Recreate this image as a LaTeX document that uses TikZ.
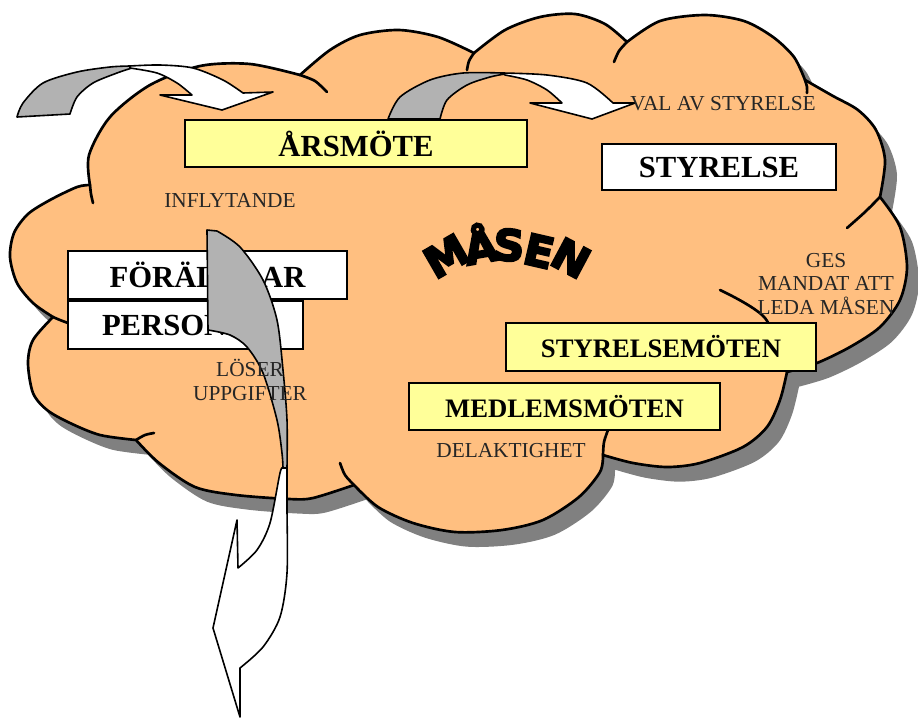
\documentclass[tikz,border=0pt]{standalone}
\usepackage{fontspec}
\setmainfont{Liberation Serif}
\newfontfamily\masenfont{DejaVu Sans}[FakeBold=5]
\usepackage{xcolor}
\usepackage{tikz}
\usetikzlibrary{positioning,shadows}
\definecolor{MPeach}{HTML}{FFBF80}
\definecolor{MYellow}{HTML}{FFFF99}
\definecolor{MRibbon}{HTML}{B2B2B2}
\definecolor{MShadow}{HTML}{808080}
\definecolor{MText}{HTML}{262626}

\begin{document}
\begin{tikzpicture}[
  x=0.75pt,y=-0.75pt,
  every node/.style={inner sep=0pt},
  cloudline/.style={draw=black,line width=2pt,fill=MPeach,line join=round,
    drop shadow={shadow xshift=9pt,shadow yshift=-11pt,fill=MShadow,opacity=1}},
  bump/.style={draw=black,line width=2pt,line cap=round},
  topic/.style={draw=black,line width=1.5pt,fill=white,minimum height=35.25pt,
    font=\fontsize{23}{26}\selectfont\bfseries},
  meeting/.style={draw=black,line width=1.5pt,fill=MYellow,minimum height=35.5pt,
    font=\fontsize{20}{23}\selectfont\bfseries},
  note/.style={text=MText,align=center,font=\fontsize{16}{17.8}\selectfont},
  back/.style={draw=black,line width=1.2pt,fill=MRibbon,line join=round},
  front/.style={draw=black,line width=1.2pt,fill=white,line join=round},
  masen/.style={font=\masenfont\bfseries\fontsize{32}{32}\selectfont}
]
  \useasboundingbox (0,0) rectangle (918,719);
  % the cloud
  \draw[cloudline]
    plot[smooth] coordinates {(90,185) (89,155) (110,117) (150,85) (200,66) (250,64) (300,75)}
    -- plot[smooth] coordinates {(300,75) (330,50) (360,35) (399,30) (438,37) (474,53)}
    -- plot[smooth] coordinates {(474,53) (505,30) (540,17) (575,14) (605,24) (627,42)}
    -- plot[smooth] coordinates {(627,42) (660,21) (705,15) (744,21) (773,37) (794,57) (805,80)}
    -- plot[smooth] coordinates {(805,80) (833,96) (858,110) (876,130) (885,160) (880,197)}
    -- plot[smooth] coordinates {(880,197) (900,227) (907,267) (900,300) (880,327) (850,347) (817,363) (787,372)}
    -- plot[smooth] coordinates {(787,372) (780,400) (767,427) (743,447) (700,463) (667,467) (633,463) (603,455)}
    -- plot[smooth] coordinates {(603,455) (600,472) (579,497) (543,520) (502,530) (455,532) (413,523) (378,507) (354,485)}
    -- plot[smooth] coordinates {(354,485) (313,498) (289,499) (236,495) (195,487) (159,463) (136,440)}
    -- plot[smooth] coordinates {(136,440) (100,435) (70,423) (47,410) (33,393) (28,363) (33,340) (53,317)}
    -- plot[smooth] coordinates {(53,317) (33,303) (17,283) (10,257) (14,233) (28,214) (50,200) (77,187) (90,185)}
    -- cycle;
  \foreach \xa/\ya/\xb/\yb/\xc/\yc in {300/75/315/81/327/92, 474/53/469/61/467/70,
      627/42/619/51/614/62, 805/80/807/87/807/93, 880/197/865/212/847/228,
      787/372/765/318/720/290, 603/455/604/442/608/430, 354/485/345/475/340/463,
      136/440/145/435/154/433, 53/317/60/320/68/323, 90/185/91/194/93/203}
    {\draw[bump] plot[smooth] coordinates {(\xa,\ya) (\xb,\yb) (\xc,\yc)};}

  % boxes
  \node[topic,fill=MYellow,minimum width=256.5pt] (arsmote) at (356,143.5) {ÅRSMÖTE};
  \node[topic,minimum width=175.5pt,minimum height=34.5pt] (styrelse) at (719,167) {STYRELSE};
  \node[topic,minimum width=209.25pt,minimum height=36pt] (foraldrar) at (207.5,275) {FÖRÄLDRAR};
  \node[topic,minimum width=176.25pt,minimum height=36pt,
    below=0pt of foraldrar.south west,anchor=north west] (personal) {PERSONAL};
  \node[meeting,minimum width=232.5pt,minimum height=36pt] (stmote) at (661,347) {STYRELSEMÖTEN};
  \node[meeting,minimum width=233.25pt] (medmote) at (564.5,406.5) {MEDLEMSMÖTEN};

  % curved ribbons
  \draw[back] plot[smooth] coordinates {(17,117) (23,103) (43,83) (77,72) (110,67) (130,66)}
    -- plot[smooth] coordinates {(132,68) (117,73) (93,83) (77,97) (70,114)} -- cycle;
  \draw[front] plot[smooth] coordinates {(130,66) (160,65) (193,68) (223,80) (243,93)}
    -- (273,92) -- (222,110) -- (160,95) -- (192,95)
    -- plot[smooth] coordinates {(192,95) (177,83) (157,73) (130,68)} -- cycle;
  \draw[back] plot[smooth] coordinates {(388,119) (400,97) (430,80) (463,73) (503,73)}
    -- plot[smooth] coordinates {(505,74) (490,77) (467,85) (447,100) (440,119)} -- cycle;
  \draw[front] plot[smooth] coordinates {(503,73) (547,75) (587,83) (613,103)}
    -- (635,103) -- (592,119) -- (530,103) -- (562,103)
    -- plot[smooth] coordinates {(562,103) (547,90) (527,80) (505,75)} -- cycle;
  \draw[back] (207,230) -- plot[smooth] coordinates {(217,231) (240,247) (263,280) (277,320) (283,370) (287,420) (287,468)}
    -- plot[smooth] coordinates {(283,468) (282,453) (277,420) (263,373) (247,347) (230,335) (208,330)} -- cycle;
  \draw[front] plot[smooth] coordinates {(287,468) (287,507) (287,573) (280,617) (263,647) (240,668)}
    -- (240,717) -- (213,628) -- (237,520) -- (238,568)
    -- plot[smooth] coordinates {(238,568) (257,550) (270,523) (280,473) (283,468)} -- cycle;

  % labels
  \node[note] (inflytande) at (230,200) {INFLYTANDE};
  \node[note] (val) at (723,104) {VAL AV STYRELSE};
  \node[note] (mandat) at (826,284) {GES\\MANDAT ATT\\LEDA MÅSEN};
  \node[note] (loser) at (250,380) {LÖSER\\UPPGIFTER};
  \node[note] (delakt) at (511,451) {DELAKTIGHET};
  \foreach \ch/\px/\py/\rot [count=\i] in {M/446/256/30, Å/480/243/10, S/509/245/-3, E/539/251/-13, N/571/258/-28}
    {\node[masen,rotate=\rot] (m\i) at (\px,\py) {\ch};}
\end{tikzpicture}
\end{document}
